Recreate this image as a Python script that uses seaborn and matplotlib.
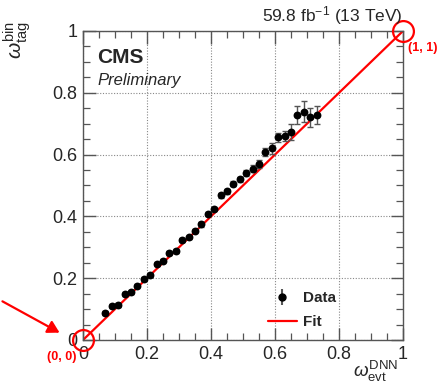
import matplotlib
matplotlib.use("Agg")
import matplotlib.pyplot as plt
import seaborn as sns
import numpy as np
import pandas as pd
from matplotlib.ticker import MultipleLocator, FixedLocator, FixedFormatter
from matplotlib.lines import Line2D

# ---- data ----
x_dnn = [0.07, 0.09, 0.11, 0.13, 0.15, 0.17, 0.19, 0.21, 0.23, 0.25, 0.27, 0.29,
         0.31, 0.33, 0.35, 0.37, 0.39, 0.41, 0.43, 0.45, 0.47, 0.49, 0.51, 0.53,
         0.55, 0.57, 0.59, 0.61, 0.63, 0.65, 0.67, 0.69, 0.71, 0.73]
y_bin = [0.087, 0.110, 0.113, 0.149, 0.154, 0.176, 0.197, 0.210, 0.246, 0.257, 0.281, 0.289,
         0.324, 0.332, 0.354, 0.374, 0.407, 0.424, 0.469, 0.482, 0.505, 0.520, 0.540, 0.555,
         0.570, 0.607, 0.620, 0.656, 0.660, 0.674, 0.728, 0.739, 0.721, 0.728]
y_err = [0.006, 0.006, 0.006, 0.006, 0.006, 0.006, 0.006, 0.006, 0.006, 0.006, 0.006, 0.006,
         0.006, 0.006, 0.006, 0.007, 0.007, 0.007, 0.008, 0.008, 0.008, 0.009, 0.010, 0.012,
         0.013, 0.013, 0.017, 0.014, 0.016, 0.026, 0.028, 0.034, 0.031, 0.028]
fit_x = [0.0, 1.0]
fit_y = [0.0, 1.0]
tick_vals = [0, 0.2, 0.4, 0.6, 0.8, 1]
tick_labels = ["0", "0.2", "0.4", "0.6", "0.8", "1"]
anchor_pts = [(0.0, 0.0), (1.0, 1.0)]
anchor_labels = ["(0, 0)", "(1, 1)"]

sns.set_style("ticks")
plt.rcParams["font.family"] = ["Liberation Sans", "DejaVu Sans"]
plt.rcParams["mathtext.fontset"] = "custom"
plt.rcParams["mathtext.rm"] = "Liberation Sans"
plt.rcParams["mathtext.it"] = "Liberation Sans:italic"
plt.rcParams["mathtext.bf"] = "Liberation Sans:bold"

fig = plt.figure(figsize=(4.39, 3.85), dpi=100)
ax = fig.add_axes([83/439, 1-340/385, 320/439, 309/385])

df = pd.DataFrame({"x": x_dnn, "y": y_bin, "err": y_err})
fit_df = pd.DataFrame({"x": fit_x, "y": fit_y})

sns.lineplot(data=fit_df, x="x", y="y", color="#ff0000", lw=1.6, ax=ax, zorder=2,
             legend=False)
ax.errorbar(df["x"], df["y"], yerr=df["err"], fmt="none", ecolor="#555555",
            elinewidth=1.0, capsize=2, capthick=1.0, zorder=3)
sns.scatterplot(data=df, x="x", y="y", color="black", s=32, edgecolor="black",
                linewidth=0, ax=ax, zorder=4, legend=False)

ax.set_xlim(0, 1)
ax.set_ylim(0, 1)
ax.xaxis.set_major_locator(FixedLocator(tick_vals))
ax.xaxis.set_major_formatter(FixedFormatter(tick_labels))
ax.yaxis.set_major_locator(FixedLocator(tick_vals))
ax.yaxis.set_major_formatter(FixedFormatter(tick_labels))
ax.xaxis.set_minor_locator(MultipleLocator(0.05))
ax.yaxis.set_minor_locator(MultipleLocator(0.05))
ax.tick_params(which="both", direction="in", top=True, right=True, color="#555555")
ax.tick_params(which="major", length=9, width=1.0, labelsize=13)
ax.tick_params(which="minor", length=5, width=0.9)
ax.tick_params(axis="x", which="major", pad=4)
ax.tick_params(axis="y", which="major", pad=4)
for sp in ax.spines.values():
    sp.set_color("#555555")
    sp.set_linewidth(1.0)
ax.grid(True, which="major", color="#888888", linestyle=(0, (1, 1.5)), linewidth=0.8)
ax.set_xlabel("")
ax.set_ylabel("")

# anchor circles and labels
for (px, py) in anchor_pts:
    ax.plot([px], [py], marker="o", ms=15, mfc="none", mec="#ff0000", mew=1.6,
            clip_on=False, zorder=5)
ax.text(-0.02, -0.035, anchor_labels[0], color="#ff0000", fontsize=9,
        fontweight="bold", ha="right", va="top", clip_on=False)
ax.text(1.015, 0.965, anchor_labels[1], color="#ff0000", fontsize=9,
        fontweight="bold", ha="left", va="top", clip_on=False)

# arrow from outside left to the origin
fig.patches.append(matplotlib.patches.FancyArrowPatch(
    (0/439, 1-300/385), (62/439, 1-334/385), transform=fig.transFigure,
    arrowstyle="-|>,head_length=7,head_width=4", color="#ff0000", lw=1.6))

# legend
h_data = ax.errorbar([], [], yerr=[], fmt="o", color="black", ms=5,
                     ecolor="#555555", capsize=2)
h_fit = Line2D([], [], color="#ff0000", lw=1.6)
ax.legend([h_data, h_fit], ["Data", "Fit"], loc="lower left",
          bbox_to_anchor=(0.535, -0.01), frameon=False,
          prop={"weight": "bold", "size": 11}, handlelength=1.9,
          handletextpad=0.4, labelspacing=0.65)

# CMS labels
ax.text(0.045, 0.915, "CMS", transform=ax.transAxes, fontsize=15,
        fontweight="bold", ha="left", va="center")
ax.text(0.045, 0.84, "Preliminary", transform=ax.transAxes, fontsize=12,
        fontstyle="italic", ha="left", va="center")
fig.text(403/439, 1-16/385, r"59.8 fb$^{-1}$ (13 TeV)", ha="right", va="center",
         fontsize=12.5)

# axis titles
fig.text(398/439, 1-384/385, r"$\omega_{\mathrm{evt}}^{\mathrm{DNN}}$", ha="right",
         va="bottom", fontsize=13.5)
fig.text(17/439, 1-40/385, r"$\omega_{\mathrm{tag}}^{\mathrm{bin}}$", ha="center",
         va="center", fontsize=15, rotation=90)

fig.savefig("out.png", dpi=100)
